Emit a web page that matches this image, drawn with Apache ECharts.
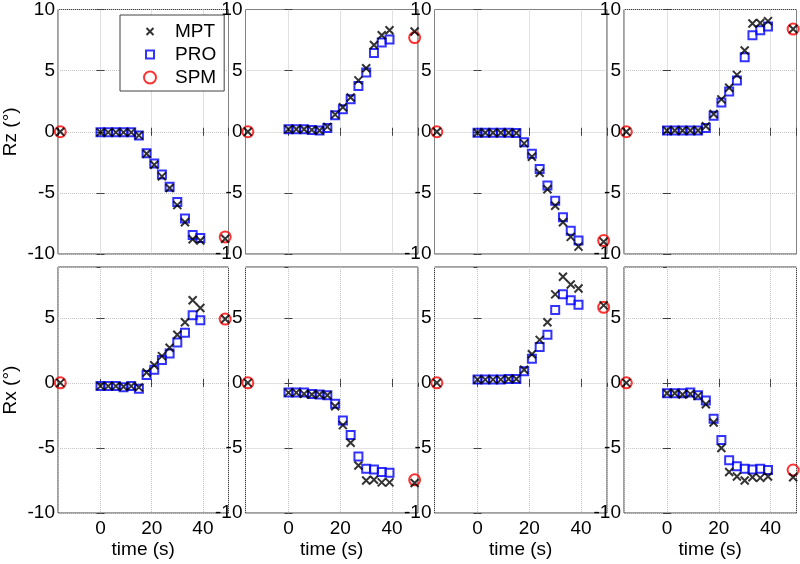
<!DOCTYPE html>
<html><head><meta charset="utf-8">
<script src="https://cdn.jsdelivr.net/npm/echarts@6/dist/echarts.min.js"></script>
<style>html,body{margin:0;padding:0;background:#fff}#c{width:800px;height:564px}</style>
</head><body><div id="c"></div>
<script>
// ---- data ----
const mptTimes = [-15.7, 0, 3, 6, 9, 12, 15, 18, 21, 24, 27, 30, 33, 36, 39, 48.7];
const proTimes = [0, 3, 6, 9, 12, 15, 18, 21, 24, 27, 30, 33, 36, 39];
const spmTimes = [-15.7, 48.7];
const yNames = ['Rz (°)', 'Rx (°)'];
const seriesNames = ['MPT', 'PRO', 'SPM'];

// Rz row
const rzMPT1 = [0, -0.05, -0.05, -0.05, -0.05, -0.05, -0.3, -1.8, -2.7, -3.65, -4.6, -6.0, -7.4, -8.8, -8.9, -8.75];
const rzPRO1 = [-0.05, -0.05, -0.05, -0.05, -0.05, -0.3, -1.75, -2.6, -3.5, -4.5, -5.75, -7.1, -8.45, -8.7];
const rzSPM1 = [0, -8.6];
const rzMPT2 = [0, 0.2, 0.2, 0.2, 0.15, 0.1, 0.4, 1.4, 2.0, 2.8, 4.2, 5.2, 7.1, 7.9, 8.3, 8.2];
const rzPRO2 = [0.2, 0.2, 0.2, 0.15, 0.1, 0.3, 1.35, 1.85, 2.65, 3.75, 4.85, 6.45, 7.3, 7.55];
const rzSPM2 = [0, 7.7];
const rzMPT3 = [0, -0.08, -0.08, -0.08, -0.08, -0.08, -0.1, -0.95, -2.05, -3.35, -4.7, -6.05, -7.4, -8.6, -9.4, -9.0];
const rzPRO3 = [-0.08, -0.08, -0.08, -0.08, -0.08, -0.1, -0.85, -1.8, -3.05, -4.4, -5.65, -7.0, -8.1, -8.9];
const rzSPM3 = [0, -8.9];
const rzMPT4 = [0, 0.1, 0.1, 0.1, 0.1, 0.1, 0.45, 1.45, 2.65, 3.6, 4.65, 6.65, 8.85, 8.9, 9.05, 8.4];
const rzPRO4 = [0.1, 0.1, 0.1, 0.1, 0.1, 0.3, 1.3, 2.4, 3.3, 4.2, 6.1, 7.9, 8.3, 8.6];
const rzSPM4 = [0, 8.4];
// Rx row
const rxMPT1 = [0, -0.25, -0.25, -0.25, -0.3, -0.25, -0.35, 0.8, 1.35, 2.05, 2.7, 3.7, 4.65, 6.35, 5.75, 4.9];
const rxPRO1 = [-0.25, -0.25, -0.25, -0.33, -0.25, -0.45, 0.6, 1.0, 1.75, 2.25, 3.1, 3.85, 5.2, 4.8];
const rxSPM1 = [0, 4.9];
const rxMPT2 = [0, -0.75, -0.75, -0.85, -0.9, -0.9, -0.95, -1.8, -3.25, -4.6, -6.35, -7.5, -7.45, -7.65, -7.65, -7.7];
const rxPRO2 = [-0.75, -0.75, -0.75, -0.85, -0.9, -0.95, -1.6, -2.9, -4.0, -5.65, -6.6, -6.65, -6.85, -6.9];
const rxSPM2 = [0, -7.45];
const rxMPT3 = [0, 0.25, 0.25, 0.25, 0.25, 0.3, 0.3, 1.0, 2.2, 3.3, 4.65, 6.8, 8.15, 7.55, 7.25, 5.95];
const rxPRO3 = [0.25, 0.25, 0.25, 0.25, 0.3, 0.3, 0.9, 1.85, 2.75, 3.7, 5.6, 6.8, 6.35, 6.0];
const rxSPM3 = [0, 5.8];
const rxMPT4 = [0, -0.8, -0.8, -0.9, -0.85, -1.0, -1.65, -3.05, -5.0, -6.85, -7.2, -7.5, -7.25, -7.3, -7.2, -7.25];
const rxPRO4 = [-0.8, -0.8, -0.8, -0.75, -0.95, -1.35, -2.75, -4.4, -5.95, -6.4, -6.6, -6.65, -6.6, -6.7];
const rxSPM4 = [0, -6.7];

const panels = [
  [rzMPT1, rzPRO1, rzSPM1], [rzMPT2, rzPRO2, rzSPM2], [rzMPT3, rzPRO3, rzSPM3], [rzMPT4, rzPRO4, rzSPM4],
  [rxMPT1, rxPRO1, rxSPM1], [rxMPT2, rxPRO2, rxSPM2], [rxMPT3, rxPRO3, rxSPM3], [rxMPT4, rxPRO4, rxSPM4]
];

// ---- layout / style ----
const FONT = '"Liberation Sans", Arial, sans-serif';
const AX = '#404040';
const lefts = [56, 245.5, 434.5, 624];
const tops = [8, 267];
const W = 172.5, H = 246;
const X_SYM = 'path://M0,0L10,10M0,10L10,0';
const zip = (xs, ys) => xs.map((x, k) => [x, ys[k]]);

const grid = [], xAxis = [], yAxis = [], series = [];
panels.forEach((p, i) => {
  const row = Math.floor(i / 4), col = i % 4;
  const bottom = row === 1;
  grid.push({left: lefts[col], top: tops[row], width: W, height: H, show: true,
    borderColor: AX, borderWidth: 1, backgroundColor: '#fff', containLabel: false});
  const xBase = {type: 'value', gridIndex: i, min: -16.6, max: 50, splitNumber: 3, minInterval: 20, maxInterval: 20};
  const yBase = bottom ? {type: 'value', gridIndex: i, min: -10, max: 8.9, interval: 5}
                       : {type: 'value', gridIndex: i, min: -10, max: 10, interval: 5};
  const tick = {show: true, inside: true, length: 4, lineStyle: {color: AX, width: 1}};
  xAxis.push(Object.assign({}, xBase, {
    position: 'bottom',
    axisLine: {show: false}, axisTick: tick,
    axisLabel: {show: bottom, showMinLabel: false, showMaxLabel: false, fontSize: 19, color: '#000', fontFamily: FONT, margin: 6},
    splitLine: {show: true, lineStyle: {color: '#c4c4c4', type: 'dotted', width: 1}},
    name: bottom ? 'time (s)' : '', nameLocation: 'middle', nameGap: 27,
    nameTextStyle: {fontSize: 19, color: '#000', fontFamily: FONT}
  }));
  xAxis.push(Object.assign({}, xBase, {
    position: 'top', axisLine: {show: false}, axisTick: tick,
    axisLabel: {show: false}, splitLine: {show: false}
  }));
  yAxis.push(Object.assign({}, yBase, {
    position: 'left',
    axisLine: {show: false}, axisTick: tick,
    axisLabel: {show: true, showMaxLabel: !bottom, fontSize: 19, color: '#000', fontFamily: FONT, margin: 3},
    splitLine: {show: true, lineStyle: {color: '#c4c4c4', type: 'dotted', width: 1}},
    name: col === 0 ? yNames[row] : '', nameLocation: 'middle', nameGap: 38, nameRotate: 90,
    nameTextStyle: {fontSize: 19, color: '#000', fontFamily: FONT}
  }));
  yAxis.push(Object.assign({}, yBase, {
    position: 'right', axisLine: {show: false}, axisTick: tick,
    axisLabel: {show: false}, splitLine: {show: false}
  }));
  const [mpt, pro, spm] = p;
  series.push({
    name: 'SPM', type: 'scatter', xAxisIndex: 2 * i, yAxisIndex: 2 * i, z: 2,
    symbol: 'circle', symbolSize: 11, data: zip(spmTimes, spm),
    itemStyle: {color: 'rgba(0,0,0,0)', borderColor: '#ff0000', borderWidth: 2}, emphasis: {disabled: true}
  });
  series.push({
    name: 'PRO', type: 'scatter', xAxisIndex: 2 * i, yAxisIndex: 2 * i, z: 3,
    symbol: 'rect', symbolSize: 8, data: zip(proTimes, pro),
    itemStyle: {color: 'rgba(0,0,0,0)', borderColor: '#0000ff', borderWidth: 2}, emphasis: {disabled: true}
  });
  series.push({
    name: 'MPT', type: 'scatter', xAxisIndex: 2 * i, yAxisIndex: 2 * i, z: 4,
    symbol: X_SYM, symbolSize: 8, data: zip(mptTimes, mpt),
    itemStyle: {color: 'rgba(0,0,0,0)', borderColor: '#000', borderWidth: 2}, emphasis: {disabled: true}
  });
});

const option = {
  animation: false,
  backgroundColor: '#fff',
  textStyle: {fontFamily: FONT},
  grid, xAxis, yAxis, series,
  legend: {
    orient: 'vertical', left: 120, top: 15, z: 10,
    backgroundColor: '#fff', borderColor: AX, borderWidth: 1,
    padding: [7, 8, 4, 23], itemGap: 4, itemWidth: 14, itemHeight: 12, selectedMode: false,
    formatter: name => '{g|}' + name,
    textStyle: {fontSize: 19, color: '#000', fontFamily: FONT, lineHeight: 14,
      rich: {g: {width: 13, height: 14}}},
    data: [
      {name: 'MPT', icon: 'path://M0,0M12,12M2.5,2.5L9.5,9.5M2.5,9.5L9.5,2.5',
       itemStyle: {color: 'rgba(0,0,0,0)', borderColor: '#000', borderWidth: 2}},
      {name: 'PRO', icon: 'path://M0,0M12,12M2,2L10,2L10,10L2,10Z',
       itemStyle: {color: 'rgba(0,0,0,0)', borderColor: '#0000ff', borderWidth: 2}},
      {name: 'SPM', icon: 'circle',
       itemStyle: {color: 'rgba(0,0,0,0)', borderColor: '#ff0000', borderWidth: 2}}
    ]
  }
};
const chart = echarts.init(document.getElementById('c'), null, {renderer: 'canvas'});
chart.setOption(option);
</script></body></html>
